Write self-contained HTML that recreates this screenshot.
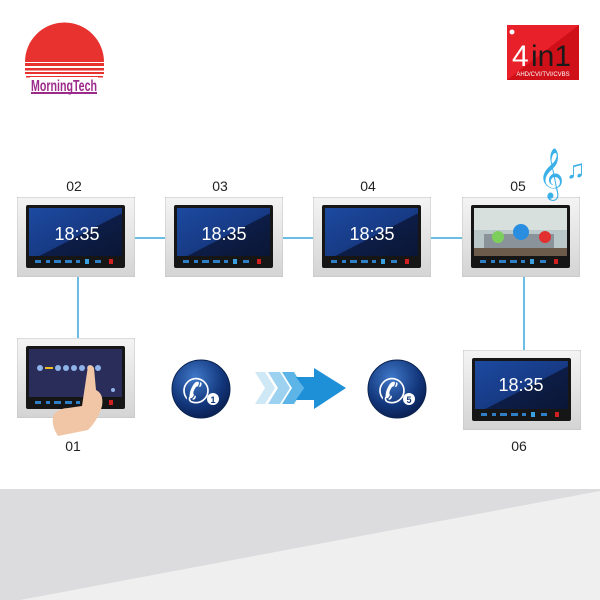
<!DOCTYPE html>
<html><head><meta charset="utf-8"><style>
html,body{margin:0;padding:0;background:#fff;}
svg{display:block;}
text{font-family:"Liberation Sans",sans-serif;}
</style></head><body>
<svg width="600" height="600" viewBox="0 0 600 600" xmlns="http://www.w3.org/2000/svg">
<defs>
<linearGradient id="frame" x1="0" y1="0" x2="0" y2="1"><stop offset="0" stop-color="#f4f4f4"/><stop offset="1" stop-color="#d4d4d4"/></linearGradient>
<linearGradient id="scr" x1="0" y1="0" x2="1" y2="1"><stop offset="0" stop-color="#1c4aa0"/><stop offset="0.55" stop-color="#173a84"/><stop offset="0.56" stop-color="#0d1d46"/><stop offset="1" stop-color="#0a1636"/></linearGradient>
<radialGradient id="ball" cx="0.4" cy="0.3" r="0.7"><stop offset="0" stop-color="#3f78c8"/><stop offset="0.7" stop-color="#12357a"/><stop offset="1" stop-color="#0b2255"/></radialGradient>
<symbol id="mon" viewBox="0 0 118 80">
<rect x="0" y="0" width="118" height="80" rx="2" fill="url(#frame)" stroke="#c4c4c4"/>
<rect x="9" y="8" width="99" height="63" rx="2" fill="#161616"/>
<rect x="12" y="11" width="93" height="48" fill="url(#scr)"/>
<g fill="#2f7fc6"><rect x="18" y="63" width="6" height="3"/><rect x="29" y="63" width="4" height="3"/><rect x="37" y="63" width="7" height="3"/><rect x="48" y="63" width="7" height="3"/><rect x="59" y="63" width="4" height="3"/><rect x="68" y="62" width="4" height="5" fill="#3aa0e0"/><rect x="78" y="63" width="6" height="3"/></g>
<rect x="92" y="62" width="4" height="5" fill="#d02020"/>
</symbol>
</defs>

<!-- logo -->
<path d="M25 62 A38 38 0 0 1 104 62 Z" fill="#e8322f"/>
<g fill="#e8322f"><rect x="25" y="63" width="79" height="3"/><rect x="25" y="68" width="79" height="2.5"/><rect x="25" y="72" width="79" height="2"/><rect x="26" y="76" width="77" height="1.5"/></g>
<rect x="30" y="77" width="68" height="15" fill="#fff"/>
<text x="64" y="91" font-size="16" font-weight="bold" fill="#9b2a8a" text-anchor="middle" textLength="66" lengthAdjust="spacingAndGlyphs">MorningTech</text>
<rect x="31" y="92" width="66" height="2" fill="#9b2a8a"/>

<!-- 4in1 -->
<rect x="507" y="25" width="72" height="55" fill="#e8202a"/>
<polygon points="507,80 579,25 579,80" fill="#d01018"/>
<circle cx="512" cy="32" r="2.5" fill="#fff"/>
<text x="512" y="66" font-size="30" fill="#fff">4</text><text x="531" y="66" font-size="30" fill="#1a1a1a">in1</text>
<text x="543" y="76" font-size="6" fill="#fff" text-anchor="middle">AHD/CVI/TVI/CVBS</text>

<!-- connectors -->
<g stroke="#3aa7dc" stroke-width="1.5" fill="none">
<line x1="134" y1="238" x2="165" y2="238"/><line x1="282" y1="238" x2="313" y2="238"/><line x1="430" y1="238" x2="463" y2="238"/>
<line x1="78" y1="277" x2="78" y2="338"/><line x1="524" y1="277" x2="524" y2="350"/>
</g>

<!-- monitors -->
<use href="#mon" x="17" y="197" width="118" height="80"/>
<use href="#mon" x="165" y="197" width="118" height="80"/>
<use href="#mon" x="313" y="197" width="118" height="80"/>
<use href="#mon" x="462" y="197" width="118" height="80"/>
<use href="#mon" x="17" y="338" width="118" height="80"/>
<use href="#mon" x="463" y="350" width="118" height="80"/>

<g fill="#fff" font-size="18" text-anchor="middle">
<text x="77" y="240">18:35</text><text x="224" y="240">18:35</text><text x="372" y="240">18:35</text><text x="521" y="391">18:35</text>
</g>

<!-- 05 video call screen -->
<rect x="474" y="208" width="93" height="48" fill="#b9c7c9"/>
<rect x="474" y="208" width="93" height="22" fill="#d7e0dc"/>
<rect x="484" y="234" width="70" height="14" fill="#8b939a"/>
<rect x="474" y="248" width="93" height="8" fill="#6c5a4a"/>
<circle cx="498" cy="237" r="6" fill="#7ccf5a"/><circle cx="521" cy="232" r="8" fill="#2a8ee0"/><circle cx="545" cy="237" r="6" fill="#e23030"/>

<!-- 01 screen -->
<rect x="29" y="349" width="93" height="48" fill="#2a2c5a"/>
<g fill="#8fb3e8"><circle cx="40" cy="368" r="3"/><circle cx="58" cy="368" r="3"/><circle cx="66" cy="368" r="3"/><circle cx="74" cy="368" r="3"/><circle cx="82" cy="368" r="3"/><circle cx="90" cy="368" r="3"/><circle cx="98" cy="368" r="3"/><circle cx="113" cy="390" r="2"/></g>
<rect x="45" y="367" width="8" height="2" fill="#f0c020"/>
<path d="M88 366 q4 -2 6 2 l2 22 q8 4 6 16 q-4 14 -14 24 l-30 6 q-8 -12 -4 -22 q6 -6 14 -6 l14 -2 z" fill="#f1c6a6"/>

<!-- labels -->
<g font-size="14" fill="#222" text-anchor="middle">
<text x="74" y="191">02</text><text x="220" y="191">03</text><text x="368" y="191">04</text><text x="518" y="191">05</text>
<text x="73" y="451">01</text><text x="519" y="451">06</text>
</g>

<!-- music note -->
<text x="538" y="188" font-size="44" fill="#3ab0e8">𝄞</text>
<text x="566" y="178" font-size="26" fill="#3ab0e8">♫</text>

<!-- phone balls -->
<circle cx="201" cy="389" r="29" fill="url(#ball)" stroke="#0a2350"/>
<text x="196" y="403" font-size="34" fill="#fff" text-anchor="middle">✆</text>
<circle cx="213" cy="399" r="6" fill="#fff"/><text x="213" y="403" font-size="9" font-weight="bold" fill="#12357a" text-anchor="middle">1</text>
<circle cx="397" cy="389" r="29" fill="url(#ball)" stroke="#0a2350"/>
<text x="392" y="403" font-size="34" fill="#fff" text-anchor="middle">✆</text>
<circle cx="409" cy="399" r="6" fill="#fff"/><text x="409" y="403" font-size="9" font-weight="bold" fill="#12357a" text-anchor="middle">5</text>

<!-- arrows -->
<polygon points="255,372 265,372 275,388 265,404 255,404 265,388" fill="#cfe8f6"/>
<polygon points="268,372 280,372 290,388 280,404 268,404 278,388" fill="#9cd1f0"/>
<polygon points="282,372 294,372 304,388 294,404 282,404 292,388" fill="#5db4e6"/>
<polygon points="296,377 314,377 314,368 346,388 314,409 314,400 296,400 304,388" fill="#1e90d8"/>

<!-- bottom band -->
<rect x="0" y="489" width="600" height="111" fill="#dcdcde"/>
<polygon points="20,600 600,491 600,600" fill="#efefef"/>
</svg>
</body></html>
